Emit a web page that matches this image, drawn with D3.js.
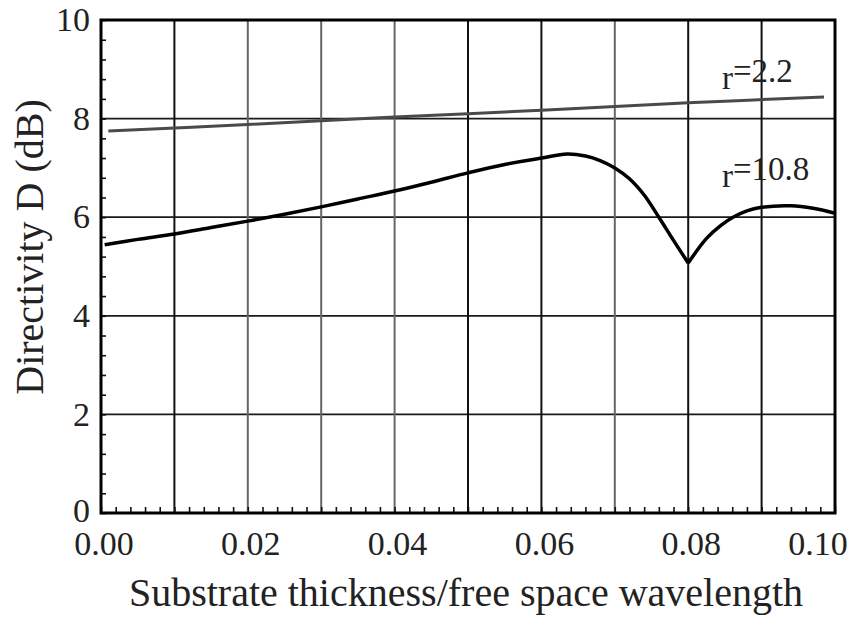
<!DOCTYPE html>
<html>
<head>
<meta charset="utf-8">
<script src="https://cdn.jsdelivr.net/npm/d3@7"></script>
<style>
  body { margin: 0; background: #fff; }
  text { font-family: "Liberation Serif", "Times New Roman", serif; fill: #222; }
  .tick-label { font-size: 34px; }
  .axis-title { font-size: 40px; }
  .note { font-size: 33px; }
</style>
</head>
<body>
<div id="chart"></div>
<script>
/////////////////////////////////////
///      DATA
/////////////////////////////////////
var xTicks = [0.00, 0.02, 0.04, 0.06, 0.08, 0.10];
var yTicks = [0, 2, 4, 6, 8, 10];
var xGrid = [0.01, 0.02, 0.03, 0.04, 0.05, 0.06, 0.07, 0.08, 0.09];
var xGridGray = [0.02, 0.03, 0.04, 0.07];
var yGrid = [2, 4, 6, 8];

// eps_r = 2.2
var thinX = [0.001, 0.02, 0.04, 0.06, 0.08, 0.0985];
var thinD = [7.75, 7.88, 8.03, 8.17, 8.32, 8.44];

// eps_r = 10.8
var thickX = [0.0005, 0.005, 0.01, 0.015, 0.02, 0.025, 0.03, 0.035, 0.04, 0.045, 0.05,
              0.055, 0.06, 0.0635, 0.066, 0.068, 0.07, 0.072, 0.074, 0.076, 0.078, 0.08,
              0.0825, 0.0845, 0.0861, 0.088, 0.09, 0.094, 0.097, 0.1];
var thickD = [5.44, 5.55, 5.66, 5.79, 5.92, 6.06, 6.21, 6.37, 6.53, 6.71, 6.9,
              7.07, 7.2, 7.28, 7.24, 7.15, 7.0, 6.78, 6.45, 6.0, 5.53, 5.07,
              5.57, 5.84, 6.0, 6.13, 6.2, 6.23, 6.18, 6.08];

var width = 853, height = 620;
var margin = {top: 20, right: 18, bottom: 107, left: 101};

/////////////////////////////////////
///      GRAPH
/////////////////////////////////////
var svg = d3.select("#chart").append("svg")
    .attr("width", width)
    .attr("height", height);

var w = width - margin.left - margin.right,
    h = height - margin.top - margin.bottom;

var x = d3.scaleLinear().domain([0, 0.1]).range([0, w]);
var y = d3.scaleLinear().domain([0, 10]).range([h, 0]);

var g = svg.append("g").attr("transform", "translate(" + margin.left + "," + margin.top + ")");

// grid
g.selectAll(".hgrid").data(yGrid).enter().append("line")
    .attr("x1", 0).attr("x2", w)
    .attr("y1", d => y(d)).attr("y2", d => y(d))
    .attr("stroke", "#1a1a1a").attr("stroke-width", 1.7);

g.selectAll(".vgrid").data(xGrid).enter().append("line")
    .attr("x1", d => x(d)).attr("x2", d => x(d))
    .attr("y1", 0).attr("y2", h)
    .attr("stroke", d => xGridGray.indexOf(d) >= 0 ? "#666" : "#111")
    .attr("stroke-width", 2);

// minor ticks (inside)
g.append("g")
    .attr("transform", "translate(0," + h + ")")
    .call(d3.axisTop(x).tickValues(d3.range(0, 0.1001, 0.002)).tickSize(6).tickFormat(""))
    .call(s => s.select(".domain").remove())
    .selectAll("line").attr("stroke", "#111").attr("stroke-width", 1.6);

g.append("g")
    .call(d3.axisRight(y).tickValues(d3.range(0, 10.01, 0.4)).tickSize(5).tickFormat(""))
    .call(s => s.select(".domain").remove())
    .selectAll("line").attr("stroke", "#111").attr("stroke-width", 1.6);

// curves
var line = d3.line()
    .x(d => x(d[0]))
    .y(d => y(d[1]))
    .curve(d3.curveCatmullRom.alpha(0.5));

var thin = thinX.map((v, i) => [v, thinD[i]]);
var thick = thickX.map((v, i) => [v, thickD[i]]);

g.append("path")
    .datum(thin)
    .attr("fill", "none").attr("stroke", "#4a4a4a").attr("stroke-width", 3)
    .attr("d", line);

// split at the null so the cusp stays sharp
g.append("path")
    .datum(thick.filter(d => d[0] <= 0.08))
    .attr("fill", "none").attr("stroke", "#000").attr("stroke-width", 3.5)
    .attr("d", line);
g.append("path")
    .datum(thick.filter(d => d[0] >= 0.08))
    .attr("fill", "none").attr("stroke", "#000").attr("stroke-width", 3.5)
    .attr("d", line);

// frame
g.append("rect")
    .attr("width", w).attr("height", h)
    .attr("fill", "none").attr("stroke", "#000").attr("stroke-width", 3);

// tick labels
g.selectAll(".xl").data(xTicks).enter().append("text")
    .attr("class", "tick-label")
    .attr("x", d => x(d))
    .attr("dx", d => d === 0.1 ? -17 : 3)
    .attr("y", h + 42)
    .attr("text-anchor", "middle")
    .text(d => d.toFixed(2));

g.selectAll(".yl").data(yTicks).enter().append("text")
    .attr("class", "tick-label")
    .attr("x", -11)
    .attr("y", d => y(d))
    .attr("dy", d => d === 0 ? "0.26em" : "0.33em")
    .attr("text-anchor", "end")
    .text(d => d);

// axis titles
svg.append("text")
    .attr("class", "axis-title")
    .attr("x", 466).attr("y", 606)
    .attr("text-anchor", "middle")
    .text("Substrate thickness/free space wavelength");

svg.append("text")
    .attr("class", "axis-title")
    .attr("transform", "translate(43,247) rotate(-90)")
    .attr("text-anchor", "middle")
    .text("Directivity D (dB)");

// curve labels
function note(txt, yv) {
    var t = g.append("text").attr("class", "note")
        .attr("x", x(0.0846)).attr("y", y(yv));
    t.append("tspan").attr("dy", 7).text("r");
    t.append("tspan").attr("dy", -7).text("=" + txt);
}
note("2.2", 8.75);
note("10.8", 6.75);
</script>
</body>
</html>
